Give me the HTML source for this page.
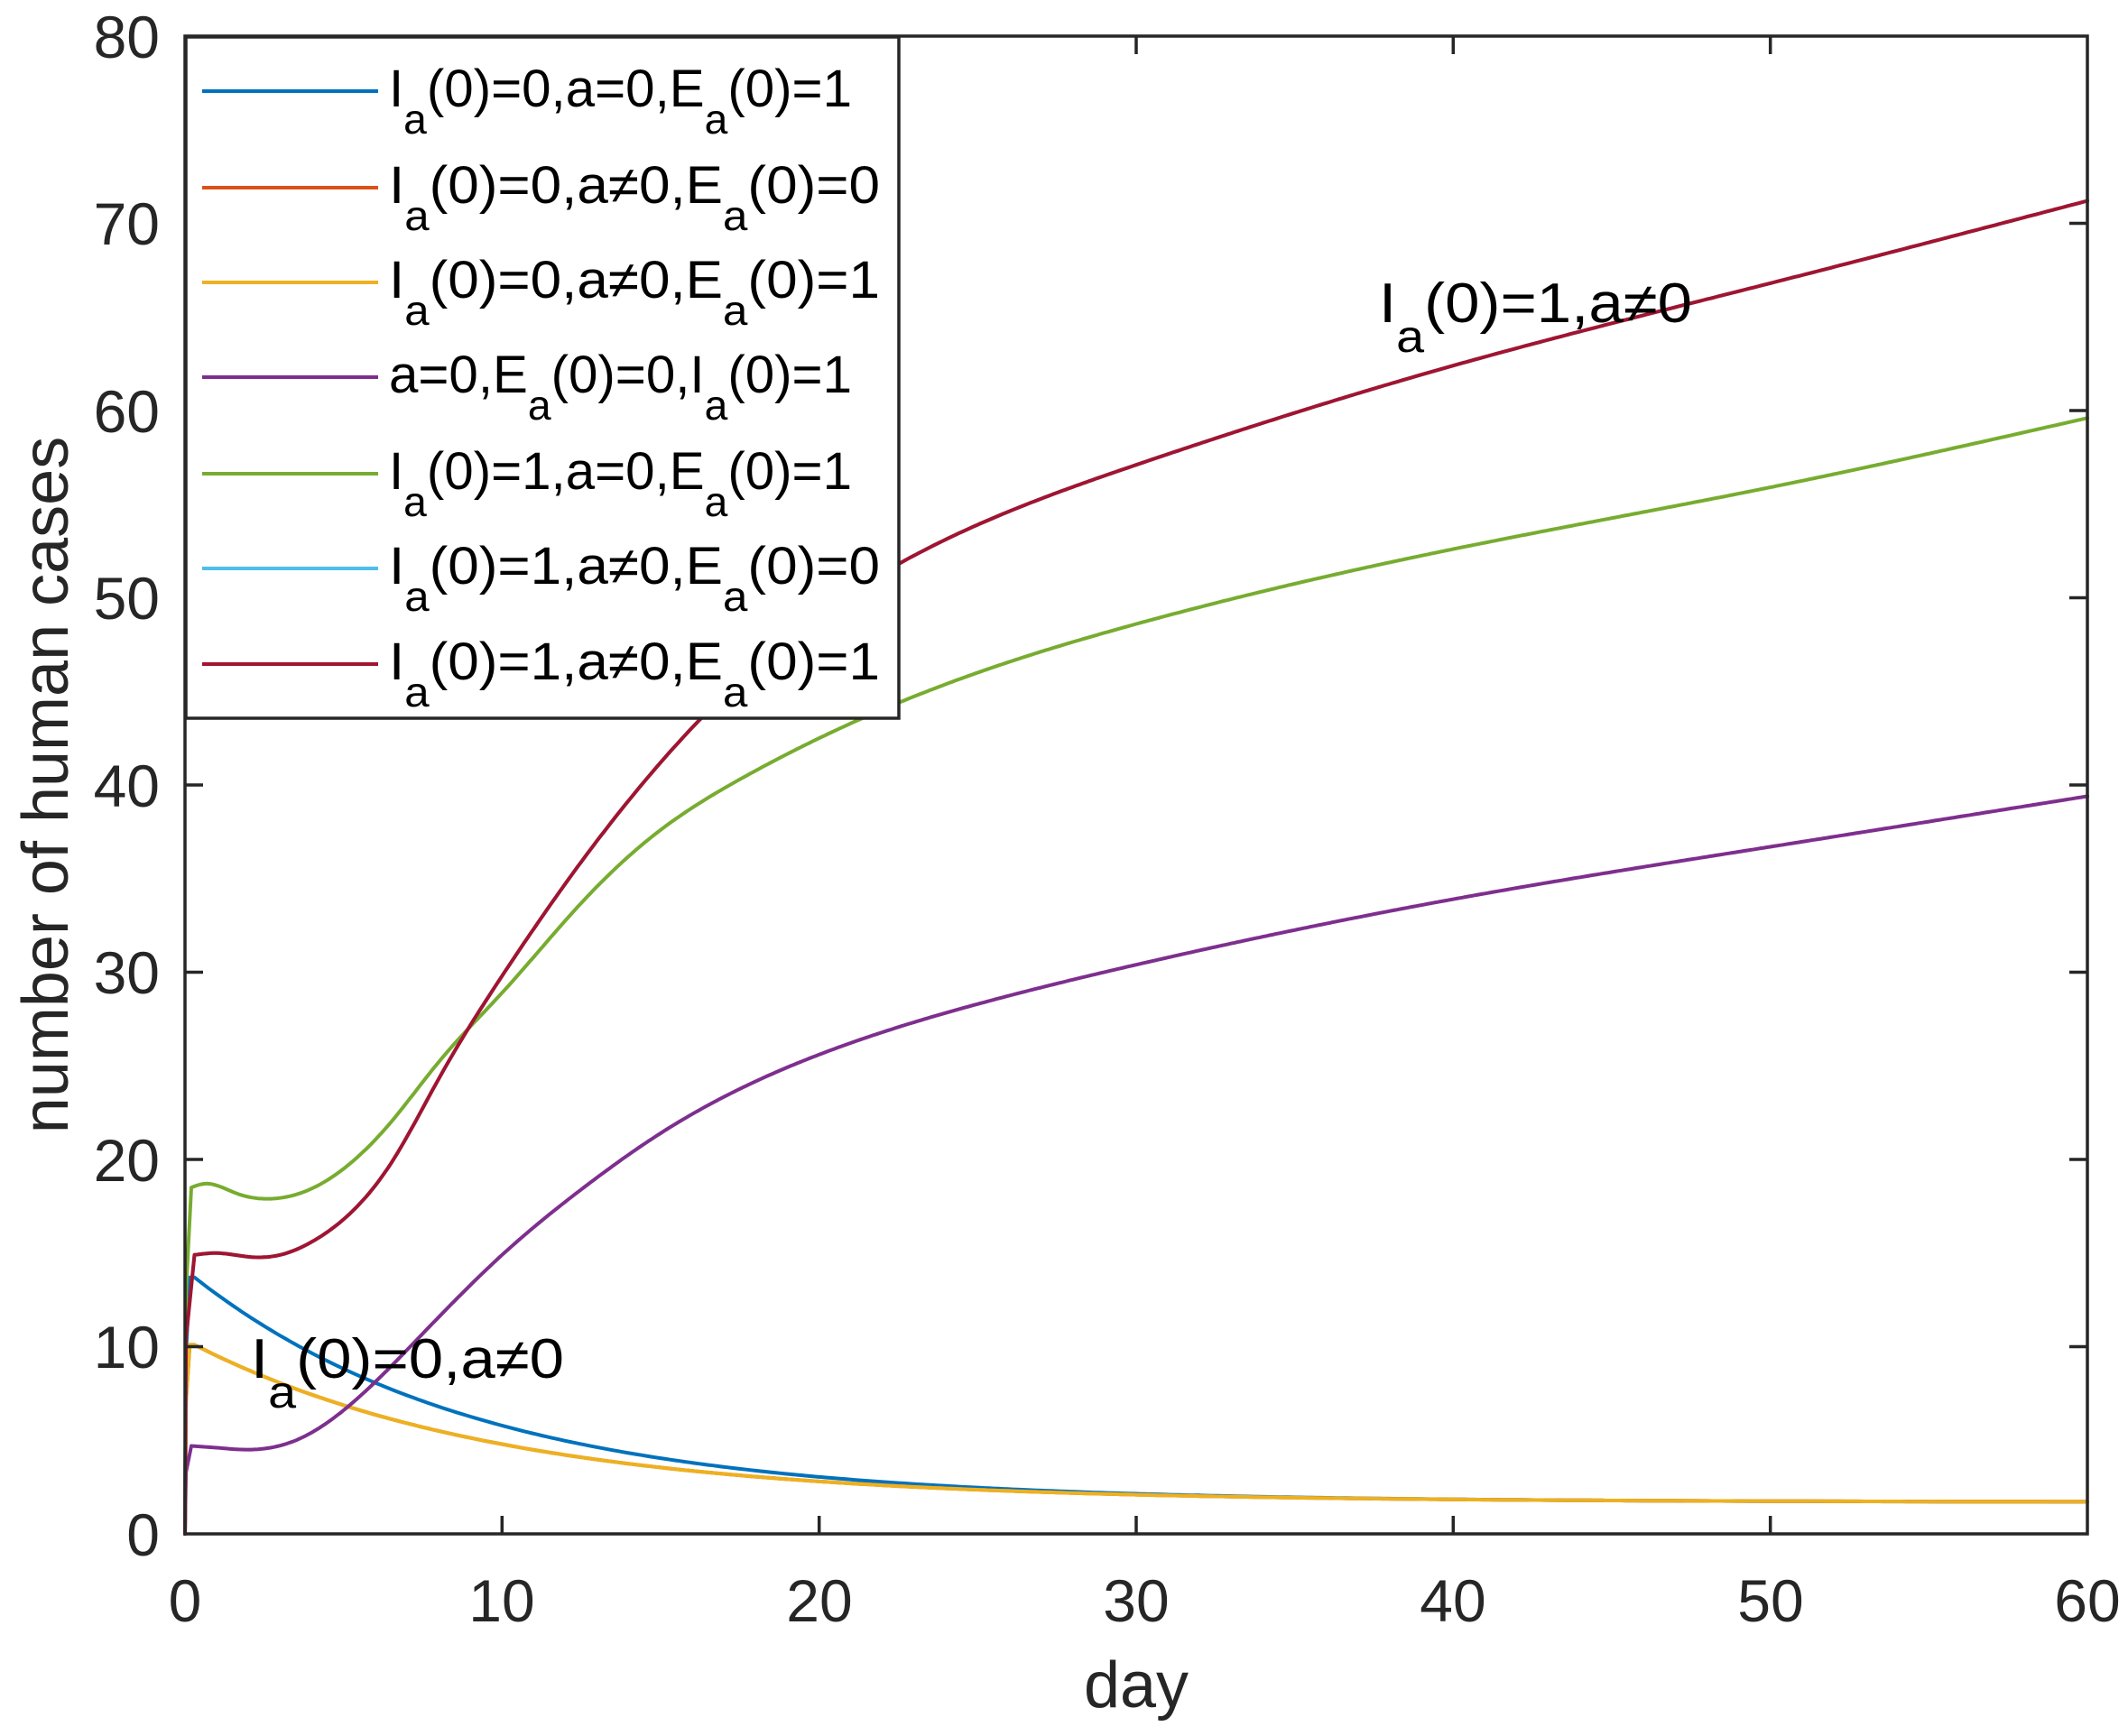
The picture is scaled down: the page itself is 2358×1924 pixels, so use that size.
<!DOCTYPE html>
<html><head><meta charset="utf-8"><style>
html,body{margin:0;padding:0;background:#fff;}
svg{display:block;font-family:"Liberation Sans",Arial,sans-serif;}
</style></head><body>
<svg id="s" width="2358" height="1924" viewBox="0 0 2358 1924" xmlns="http://www.w3.org/2000/svg">
<rect width="2358" height="1924" fill="#fff"/>
<g id="curves" fill="none" stroke-width="4" stroke-linejoin="round" stroke-linecap="round"></g>
<g stroke="#262626" stroke-width="3.5" fill="none">
<rect x="205" y="40" width="2108" height="1660"/>
<path d="M556.3 1700v-20M907.7 1700v-20M1259 1700v-20M1610.3 1700v-20M1961.7 1700v-20M556.3 40v20M907.7 40v20M1259 40v20M1610.3 40v20M1961.7 40v20
M205 1492.5h20M205 1285h20M205 1077.5h20M205 870h20M205 662.5h20M205 455h20M205 247.5h20
M2313 1492.5h-20M2313 1285h-20M2313 1077.5h-20M2313 870h-20M2313 662.5h-20M2313 455h-20M2313 247.5h-20"/>
</g>
<g font-size="66" fill="#262626" text-anchor="end">
<text x="177" y="1724">0</text><text x="177" y="1516">10</text><text x="177" y="1309">20</text><text x="177" y="1101">30</text><text x="177" y="894">40</text><text x="177" y="686">50</text><text x="177" y="479">60</text><text x="177" y="271">70</text><text x="177" y="64">80</text>
</g>
<g font-size="66" fill="#262626" text-anchor="middle">
<text x="205" y="1797">0</text><text x="556" y="1797">10</text><text x="908" y="1797">20</text><text x="1259" y="1797">30</text><text x="1610" y="1797">40</text><text x="1962" y="1797">50</text><text x="2313" y="1797">60</text>
<text x="1259" y="1892" font-size="72">day</text>
<text transform="translate(75 870) rotate(-90)" font-size="72">number of human cases</text>
</g>
<g font-size="62" fill="#000">
<text x="1528" y="357" textLength="347" lengthAdjust="spacingAndGlyphs">I<tspan font-size="50" dy="33">a</tspan><tspan dy="-33">(0)=1,a≠0</tspan></text>
<text x="278" y="1527" textLength="347" lengthAdjust="spacingAndGlyphs">I<tspan font-size="50" dy="33">a</tspan><tspan dy="-33">(0)=0,a≠0</tspan></text>
</g>
<rect x="206" y="41" width="790" height="755" fill="#fff" stroke="#262626" stroke-width="3.5"/>
<g stroke-width="4">
<path d="M224 101h195" stroke="#0072BD"/><path d="M224 208h195" stroke="#D95319"/><path d="M224 313h195" stroke="#EDB120"/><path d="M224 418h195" stroke="#7E2F8E"/><path d="M224 525h195" stroke="#77AC30"/><path d="M224 630h195" stroke="#4DBEEE"/><path d="M224 736h195" stroke="#A2142F"/>
</g>
<g font-size="58" fill="#000">
<text x="431" y="118" textLength="513" lengthAdjust="spacingAndGlyphs">I<tspan font-size="46" dy="30">a</tspan><tspan dy="-30">(0)=0,a=0,E</tspan><tspan font-size="46" dy="30">a</tspan><tspan dy="-30">(0)=1</tspan></text>
<text x="431" y="225" textLength="544" lengthAdjust="spacingAndGlyphs">I<tspan font-size="46" dy="30">a</tspan><tspan dy="-30">(0)=0,a≠0,E</tspan><tspan font-size="46" dy="30">a</tspan><tspan dy="-30">(0)=0</tspan></text>
<text x="431" y="330" textLength="544" lengthAdjust="spacingAndGlyphs">I<tspan font-size="46" dy="30">a</tspan><tspan dy="-30">(0)=0,a≠0,E</tspan><tspan font-size="46" dy="30">a</tspan><tspan dy="-30">(0)=1</tspan></text>
<text x="431" y="435" textLength="513" lengthAdjust="spacingAndGlyphs">a=0,E<tspan font-size="46" dy="30">a</tspan><tspan dy="-30">(0)=0,I</tspan><tspan font-size="46" dy="30">a</tspan><tspan dy="-30">(0)=1</tspan></text>
<text x="431" y="542" textLength="513" lengthAdjust="spacingAndGlyphs">I<tspan font-size="46" dy="30">a</tspan><tspan dy="-30">(0)=1,a=0,E</tspan><tspan font-size="46" dy="30">a</tspan><tspan dy="-30">(0)=1</tspan></text>
<text x="431" y="647" textLength="544" lengthAdjust="spacingAndGlyphs">I<tspan font-size="46" dy="30">a</tspan><tspan dy="-30">(0)=1,a≠0,E</tspan><tspan font-size="46" dy="30">a</tspan><tspan dy="-30">(0)=0</tspan></text>
<text x="431" y="753" textLength="544" lengthAdjust="spacingAndGlyphs">I<tspan font-size="46" dy="30">a</tspan><tspan dy="-30">(0)=1,a≠0,E</tspan><tspan font-size="46" dy="30">a</tspan><tspan dy="-30">(0)=1</tspan></text>
</g>
</svg>
<script>
(function(){
var X=function(d){return 205+35.133*d;},Y=function(v){return 1700-20.75*v;};
function fn(f){var p=[[0,0],[0.03,f(0.3)*0.7]];for(var d=0.15;d<=60.001;d+=0.15)p.push([d,f(Math.max(d,0.3))]);return p;}
function ncs(pts){
 var n=pts.length,x=pts.map(function(p){return p[0];}),y=pts.map(function(p){return p[1];});
 var h=[],a=[],l=[1],mu=[0],z=[0],c=new Array(n).fill(0),b=[],d=[];
 for(var i=0;i<n-1;i++)h[i]=x[i+1]-x[i];
 for(i=1;i<n-1;i++)a[i]=3/h[i]*(y[i+1]-y[i])-3/h[i-1]*(y[i]-y[i-1]);
 for(i=1;i<n-1;i++){l[i]=2*(x[i+1]-x[i-1])-h[i-1]*mu[i-1];mu[i]=h[i]/l[i];z[i]=(a[i]-h[i-1]*z[i-1])/l[i];}
 z[n-1]=0;c[n-1]=0;
 for(var j=n-2;j>=0;j--){c[j]=z[j]-mu[j]*c[j+1];b[j]=(y[j+1]-y[j])/h[j]-h[j]*(c[j+1]+2*c[j])/3;d[j]=(c[j+1]-c[j])/(3*h[j]);}
 var out=[[0,0],[0.03,y[0]*0.7]];
 for(j=0;j<n-1;j++){for(var t=0;t<h[j];t+=0.1){out.push([x[j]+t,y[j]+b[j]*t+c[j]*t*t+d[j]*t*t*t]);}}
 out.push(pts[n-1]);return out;}
function path(p,c){return '<path stroke="'+c+'" d="M'+p.map(function(q){return X(q[0]).toFixed(1)+' '+Y(q[1]).toFixed(1);}).join('L')+'"/>';}
var blue=fn(function(d){return 1.7+12*Math.exp(-(d-0.3)/9);});
var yel=fn(function(d){return 1.7+8.4*Math.exp(-(d-0.3)/9.7);});
var pur=ncs([[0.2,4.7],[1,4.6],[2,4.5],[3.5,5.0],[5,6.6],[7.5,10.7],[10,14.9],[12.5,18.4],[15,21.4],[20,25.6],[25,28.3],[30,30.4],[40,33.9],[50,36.7],[60,39.4]]);
var grn=ncs([[0.2,18.5],[0.6,18.7],[1.6,18.2],[2.7,17.9],[3.8,18.3],[5,19.5],[6.5,22.0],[8,25.2],[10,28.9],[12.5,33.7],[15,37.6],[17.5,40.3],[20,42.5],[25,46.0],[30,48.6],[40,52.6],[50,55.9],[60,59.6]]);
var red=ncs([[0.3,14.9],[1,15.0],[2,14.8],[3,14.9],[4,15.6],[5,16.8],[6.5,19.8],[8,24.3],[10,29.8],[12.5,35.9],[15,41.2],[17.5,45.6],[20,49.1],[25,53.9],[30,57.1],[40,62.4],[50,66.8],[60,71.2]]);
document.getElementById('curves').innerHTML=path(blue,'#0072BD')+path(yel,'#D95319')+path(yel,'#EDB120')+path(pur,'#7E2F8E')+path(grn,'#77AC30')+path(red,'#4DBEEE')+path(red,'#A2142F');
})();
</script>
</body></html>
